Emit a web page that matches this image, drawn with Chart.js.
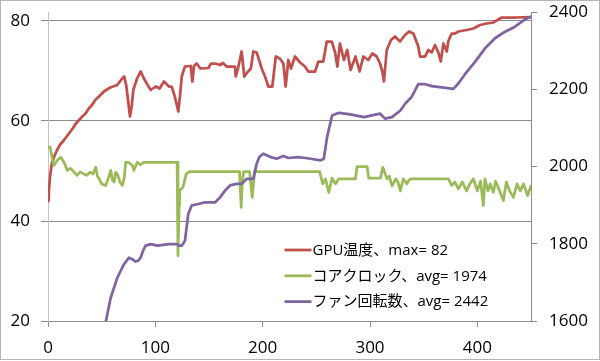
<!DOCTYPE html>
<html>
<head>
<meta charset="utf-8">
<script src="https://cdn.jsdelivr.net/npm/chart.js@4.4.1/dist/chart.umd.min.js"></script>
<style>
  html, body { margin: 0; padding: 0; background: #fff; }
  #wrap { width: 600px; height: 361px; }
</style>
</head>
<body>
<div id="wrap"><canvas id="gpuChart" width="600" height="361"></canvas></div>
<script>
// GPU temperature (left axis)
const tempX = [0.5, 1, 2, 3.5, 6, 8.5, 11, 15, 19.5, 23, 26, 32, 35, 38, 41, 44, 48, 52, 58, 64.5,
  68, 71, 73, 76.4, 78, 79.5, 83, 86.3, 89.4, 92, 95.7, 100.3, 104, 108, 112.7, 115.2, 118, 121.4, 123, 124.6,
  127.6, 133, 134.5, 136, 138.5, 142, 149.4, 152, 155.6, 160.3, 163, 166.5, 174.2, 174.9, 177, 180.4, 182.9, 186, 189, 191.3,
  194.4, 197, 199.1, 202.2, 205.3, 209, 212.2, 216, 219.3, 221.4, 223.9, 226.4, 230.1, 234.8, 239.4, 242.5, 248.8, 251.9, 256.5, 259.7,
  264.4, 267.5, 269.6, 272, 275.7, 278.8, 281.9, 286.5, 290.3, 293.8, 298.4, 302.2, 306.2, 309.3, 311.5, 313, 315.6, 319.6, 323.3, 328,
  332.6, 336.4, 340.4, 345, 346.6, 351.3, 354.4, 357.5, 360.6, 363.7, 365.9, 368.4, 371.5, 373, 376.1, 379.2, 382.3, 390, 396.3, 402.5,
  408.7, 414.9, 422.7, 435, 450];
const tempY = [44, 46.5, 49, 51.5, 53, 54.2, 55.2, 56.2, 57.5, 58.5, 59.5, 60.9, 61.5, 62.5, 63.2, 64.2, 65, 65.9, 66.7, 67.2,
  68.2, 68.9, 67, 60.9, 63, 66.2, 68.5, 69.9, 68.5, 67.5, 66.2, 66.9, 66.5, 67.9, 66.9, 66.9, 65, 61.9, 65, 68.9,
  70.9, 71, 67.9, 71, 71.5, 70.5, 70.6, 71.5, 71.5, 71.2, 71.6, 70.9, 70.9, 68.9, 70.5, 73.9, 68.9, 69.8, 70.5, 73.9,
  73.7, 72, 70.5, 68.9, 66.9, 66.9, 72.9, 72.5, 71.5, 66.9, 72.2, 70.5, 72.9, 71.7, 70.9, 69.9, 69.9, 71.9, 71.9, 75.9,
  75.9, 73.7, 70.9, 75.5, 72.2, 74.2, 70.2, 72.9, 69.9, 72.9, 72.2, 73.5, 72.9, 71.5, 69.9, 67.9, 74.2, 76.2, 76.9, 75.9,
  77.2, 77.9, 77.5, 74.9, 72.9, 72.9, 74.2, 73.7, 75.2, 73.7, 71.9, 75.5, 73.9, 76, 77.5, 77.5, 77.9, 78.2, 78.5, 79.2,
  79.5, 79.7, 80.7, 80.7, 80.8];

// core clock (right axis)
const clockX = [0, 2, 4, 5.6, 8.7, 11.8, 14.9, 18, 21, 24, 27, 30, 33, 36, 39, 42, 44.5, 46, 47.6, 50,
  53.8, 56, 58.5, 60, 61.6, 63, 64.6, 67, 69.3, 71, 72.4, 75, 78.6, 80, 81.5, 83.2, 86, 89.4, 120.3, 121.1,
  122.2, 122.7, 125.7, 128.8, 131.9, 178.5, 180, 181, 182.3, 187.8, 190.3, 192.4, 253, 256, 258.5, 261.6, 264.7, 267.8, 270.9, 286.4,
  288, 297.3, 298.8, 309.7, 311.9, 315.9, 318, 320.5, 324, 326, 328.3, 331, 334.5, 336, 338.2, 373, 376, 379, 382.3, 386,
  390, 393, 396.3, 400, 403, 405.6, 407.1, 410, 412, 414.9, 417, 420, 424.3, 427, 430, 433.6, 437, 440, 443, 446.8, 450];
const clockY = [2050, 2050, 2020, 2003, 2016, 2024, 2011, 1990, 1995, 1986, 1977, 1986, 1981, 1977, 1985, 1981, 1998, 1975, 1968, 1955,
  1951, 1968, 1990, 1965, 1960, 1985, 1981, 1960, 1951, 1970, 2011, 2011, 2003, 1990, 2000, 2011, 2005, 2011, 2011, 1769,
  1900, 1938, 1946, 1981, 1987, 1987, 1894, 1960, 1987, 1987, 1920, 1987, 1987, 1955, 1968, 1933, 1970, 1955, 1968, 1968,
  2000, 2000, 1970, 1970, 1998, 1968, 1975, 1950, 1968, 1960, 1937, 1968, 1955, 1964, 1968, 1968, 1951, 1960, 1942, 1960,
  1937, 1955, 1968, 1937, 1962, 1899, 1968, 1937, 1955, 1933, 1962, 1942, 1912, 1960, 1937, 1920, 1955, 1937, 1955, 1925, 1950];

// fan speed (right axis)
const fanX = [50, 53.7, 58.4, 64.6, 70.8, 75.5, 78.5, 81.6, 84, 86.3, 89, 91, 95.7, 101.9, 112.7, 120, 122, 124.6, 127.6, 130.7,
  133.8, 140, 146, 155.6, 160.3, 165, 169.6, 175.8, 180.4, 185.1, 191.3, 194.4, 197, 200.6, 206.9, 213, 219.3, 224, 232.9, 240,
  254, 257, 260, 264.7, 270.9, 281.8, 294.2, 309.3, 314, 320.5, 328.3, 332.9, 338.8, 345, 351.3, 357.5, 366.8, 377.6, 382.3, 388.5,
  397.8, 407.2, 416.5, 425.8, 435, 444.4, 450];
const fanY = [1585, 1596, 1660, 1712, 1747, 1764, 1760, 1754, 1756, 1764, 1785, 1795, 1799, 1795, 1799, 1799, 1795, 1795, 1808, 1877,
  1899, 1903, 1907, 1907, 1920, 1938, 1951, 1955, 1955, 1968, 1968, 2007, 2025, 2033, 2025, 2020, 2027, 2022, 2024, 2022,
  2016, 2020, 2076, 2132, 2139, 2135, 2128, 2137, 2124, 2128, 2145, 2163, 2180, 2213, 2213, 2208, 2205, 2201, 2215, 2239,
  2271, 2306, 2332, 2349, 2362, 2381, 2388];

const seriesLabels = ['GPU温度、max= 82', 'コアクロック、avg= 1974', 'ファン回転数、avg= 2442'];
const seriesColors = ['#C0504D', '#9BBB59', '#8064A2'];

const xTicks = [0, 100, 200, 300, 400];

function toPoints(xs, ys) {
    return xs.map((x, i) => ({ x: x, y: ys[i] }));
}

const tickFont = { family: "'Open Sans', 'Noto Sans', sans-serif", size: 17 };

// white background + light frame round the picture
const framePlugin = {
    id: 'frame',
    beforeDraw(chart) {
        const ctx = chart.ctx;
        ctx.save();
        ctx.fillStyle = '#fff';
        ctx.fillRect(0, 0, chart.width, chart.height);
        ctx.restore();
    },
    afterDraw(chart) {
        const ctx = chart.ctx;
        ctx.save();
        ctx.strokeStyle = '#b4b4b4';
        ctx.lineWidth = 1;
        ctx.strokeRect(0.5, 0.5, 599, 359);
        ctx.restore();
    }
};

// legend drawn inside the plot, bottom right
const innerLegend = {
    id: 'innerLegend',
    afterDraw(chart) {
        const ctx = chart.ctx;
        ctx.save();
        ctx.font = "15px 'Open Sans', 'Noto Sans CJK JP', sans-serif";
        ctx.textBaseline = 'middle';
        ctx.fillStyle = '#000';
        chart.data.datasets.forEach((ds, i) => {
            const y = 250 + i * 25.8;
            ctx.strokeStyle = ds.borderColor;
            ctx.lineWidth = 2.75;
            ctx.beginPath();
            ctx.moveTo(284.5, y);
            ctx.lineTo(311.5, y);
            ctx.stroke();
            ctx.fillText(ds.label, 312.5, y + 0.5);
        });
        ctx.restore();
    }
};

// keep y axes from pushing the plot down with label padding
function fixY(width) {
    return s => {
        s.width = width;
        s.paddingTop = 0;
        s.paddingBottom = 0;
    };
}

new Chart(document.getElementById('gpuChart'), {
    type: 'line',
    data: {
        datasets: [
            { label: seriesLabels[0], data: toPoints(tempX, tempY), yAxisID: 'yT', borderColor: seriesColors[0], order: 2 },
            { label: seriesLabels[1], data: toPoints(clockX, clockY), yAxisID: 'yR', borderColor: seriesColors[1], order: 1 },
            { label: seriesLabels[2], data: toPoints(fanX, fanY), yAxisID: 'yR', borderColor: seriesColors[2], order: 0 }
        ]
    },
    options: {
        responsive: false,
        animation: false,
        events: [],
        layout: { padding: { top: 12, left: 0, right: 0, bottom: 0 } },
        elements: {
            line: { borderWidth: 2.75, tension: 0, borderJoinStyle: 'round', borderCapStyle: 'round' },
            point: { radius: 0 }
        },
        plugins: {
            legend: { display: false },
            tooltip: { enabled: false }
        },
        scales: {
            x: {
                type: 'linear',
                min: 0,
                max: 450,
                afterBuildTicks: s => { s.ticks = xTicks.map(v => ({ value: v })); },
                afterFit: s => { s.height = 40; s.paddingLeft = 0; s.paddingRight = 0; },
                ticks: { font: tickFont, color: '#000', padding: 11, maxRotation: 0, callback: v => String(v) },
                grid: { drawOnChartArea: false, drawTicks: true, tickLength: 6, color: '#8c8c8c' },
                border: { color: '#8c8c8c' }
            },
            yT: {
                position: 'left',
                min: 20,
                max: 81.8,
                afterFit: fixY(48),
                ticks: { stepSize: 20, includeBounds: false, font: tickFont, color: '#000', padding: 11, callback: v => String(v) },
                grid: { color: '#8c8c8c', tickLength: 7 },
                border: { color: '#c4c4c4' }
            },
            yR: {
                position: 'right',
                min: 1600,
                max: 2400,
                afterFit: fixY(69),
                ticks: { stepSize: 200, font: tickFont, color: '#000', padding: 12, callback: v => String(v) },
                grid: { drawOnChartArea: false, color: '#8c8c8c', tickLength: 6 },
                border: { color: '#8c8c8c' }
            }
        }
    },
    plugins: [framePlugin, innerLegend]
});
</script>
</body>
</html>
